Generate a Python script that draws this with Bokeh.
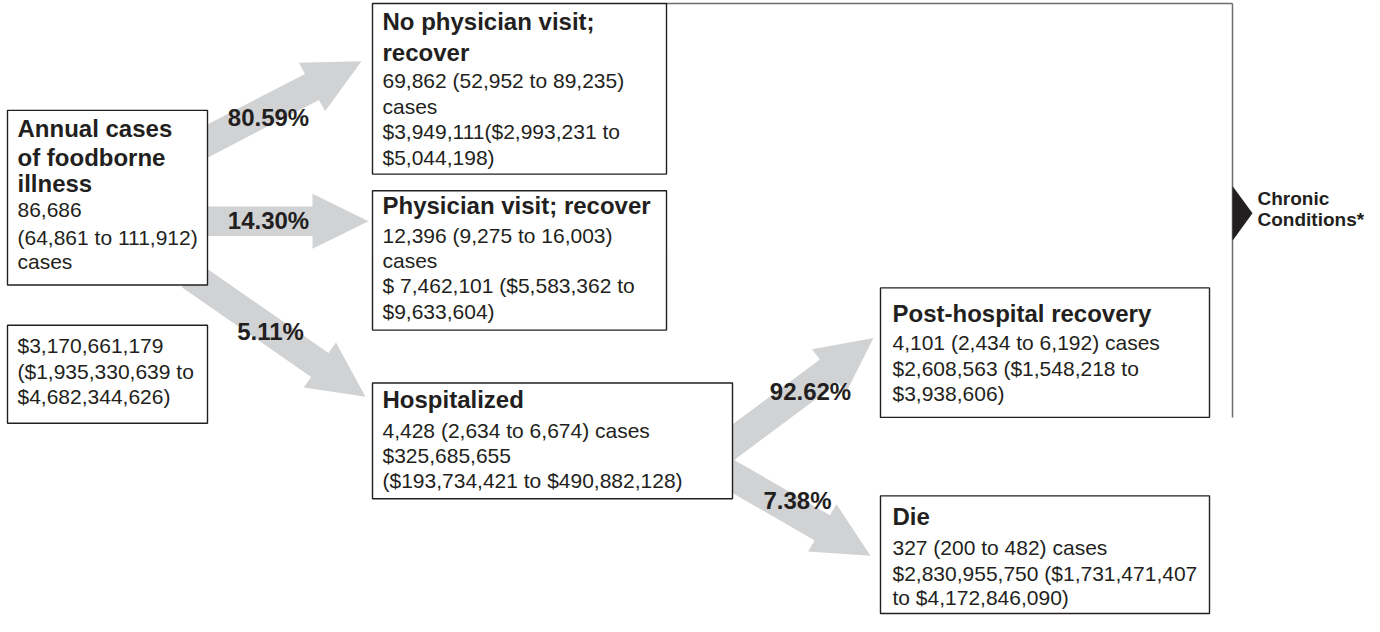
import math
from bokeh.plotting import figure
from bokeh.models import Range1d
from bokeh.core.properties import value
from bokeh.embed import file_html
from bokeh.resources import INLINE

# ---------------- data ----------------
flow_pcts = ["80.59%", "14.30%", "5.11%", "92.62%", "7.38%"]

box_titles = [
    ["Annual cases", "of foodborne", "illness"],
    [],
    ["No physician visit;", "recover"],
    ["Physician visit; recover"],
    ["Hospitalized"],
    ["Post-hospital recovery"],
    ["Die"],
]
box_bodies = [
    ["86,686", "(64,861 to 111,912)", "cases"],
    ["$3,170,661,179", "($1,935,330,639 to", "$4,682,344,626)"],
    ["69,862 (52,952 to  89,235)", "cases", "$3,949,111($2,993,231 to", "$5,044,198)"],
    ["12,396 (9,275 to 16,003)", "cases", "$ 7,462,101 ($5,583,362 to", "$9,633,604)"],
    ["4,428 (2,634 to 6,674) cases", "$325,685,655", "($193,734,421 to $490,882,128)"],
    ["4,101 (2,434 to 6,192) cases", "$2,608,563 ($1,548,218 to", "$3,938,606)"],
    ["327 (200 to 482) cases", "$2,830,955,750 ($1,731,471,407", "to $4,172,846,090)"],
]
outcome_lines = ["Chronic", "Conditions*"]

# ---------------- layout (reference pixel space, y downwards) ----------------
box_left = [7, 7, 372, 372, 372, 880, 880]
box_right = [207, 207, 666, 666, 732, 1209, 1209]
box_top = [115, 334, 6, 197, 393, 296, 508]
box_bottom = [293, 434, 180, 339, 511, 428, 628]
text_x = [17, 17, 382, 382, 382, 892, 892]
# cap-centre y of every line
title_y = [[134, 163, 190], [], [24, 56], [212], [410], [322], [529]]
body_y = [[217, 245, 269], [355, 381, 407], [85, 111, 137, 163],
          [243, 268, 294, 320], [441, 467, 492], [352, 378, 404], [561, 587, 612]]

# arrows: start, tip
arrow_start = [(200, 150), (200, 228), (190, 283), (724, 460), (724, 483)]
arrow_tip = [(361, 65), (368, 228), (365, 407), (873, 347), (870, 569)]
pct_xy = [(268, 122), (268, 227), (270, 340), (810, 402), (797, 513)]

TITLE_PX = 24
BODY_PX = 21
PCT_PX = 24
CHRONIC_PX = 19
FONT = "Liberation Sans"
INK = "#231f20"

W, H = 1364, 616
p = figure(width=W, height=H, output_backend="svg", toolbar_location=None,
           x_range=Range1d(0, 1364), y_range=Range1d(631, 3),
           x_axis_location=None, y_axis_location=None, min_border=0,
           outline_line_color=None, background_fill_color="white")
p.grid.visible = False


def arrow_poly(s, t, w=30, hw=56, hl=56):
    dx, dy = t[0] - s[0], t[1] - s[1]
    L = math.hypot(dx, dy)
    ux, uy = dx / L, dy / L
    nx, ny = -uy, ux
    bx, by = t[0] - ux * hl, t[1] - uy * hl
    pts = [
        (s[0] + nx * w / 2, s[1] + ny * w / 2),
        (bx + nx * w / 2, by + ny * w / 2),
        (bx + nx * hw / 2, by + ny * hw / 2),
        t,
        (bx - nx * hw / 2, by - ny * hw / 2),
        (bx - nx * w / 2, by - ny * w / 2),
        (s[0] - nx * w / 2, s[1] - ny * w / 2),
    ]
    return [q[0] for q in pts], [q[1] for q in pts]


xs, ys = [], []
for s, t in zip(arrow_start, arrow_tip):
    ax, ay = arrow_poly(s, t)
    xs.append(ax)
    ys.append(ay)
p.patches(xs, ys, fill_color="#d1d2d4", line_color=None)

# connector to chronic conditions
p.line([666, 1232], [6, 6], line_color="#6d6e70", line_width=1.5)
p.line([1232, 1232], [6, 428], line_color="#6d6e70", line_width=1.5)
p.patch([1232, 1252, 1232], [192, 220, 248], fill_color=INK, line_color=None)

# boxes
p.quad(left=box_left, right=box_right, top=box_top, bottom=box_bottom,
       fill_color="white", line_color=INK, line_width=1.4)


def place(yc, px):
    # empirically, this text renderer puts the cap centre at the given y
    return yc


tx, ty, tt = [], [], []
for i, lines in enumerate(box_titles):
    for ln, yc in zip(lines, title_y[i]):
        tx.append(text_x[i]); ty.append(place(yc, TITLE_PX)); tt.append(ln)
p.text(x=tx, y=ty, text=tt, text_font=value(FONT), text_font_style="bold",
       text_font_size=f"{TITLE_PX}px", text_color=INK, text_baseline="alphabetic",
       text_align="left")

bx, by, bt = [], [], []
for i, lines in enumerate(box_bodies):
    for ln, yc in zip(lines, body_y[i]):
        bx.append(text_x[i]); by.append(place(yc, BODY_PX)); bt.append(ln)
p.text(x=bx, y=by, text=bt, text_font=value(FONT), text_font_size=f"{BODY_PX}px",
       text_color=INK, text_baseline="alphabetic", text_align="left")

p.text(x=[q[0] for q in pct_xy], y=[place(q[1], PCT_PX) for q in pct_xy],
       text=flow_pcts, text_font=value(FONT), text_font_style="bold",
       text_font_size=f"{PCT_PX}px", text_color=INK, text_baseline="alphabetic",
       text_align="center")

p.text(x=[1257, 1257], y=[place(205, CHRONIC_PX), place(226, CHRONIC_PX)],
       text=outcome_lines, text_font=value(FONT), text_font_style="bold",
       text_font_size=f"{CHRONIC_PX}px", text_color=INK, text_baseline="alphabetic",
       text_align="left")

open("out.html", "w").write(file_html(p, INLINE))
